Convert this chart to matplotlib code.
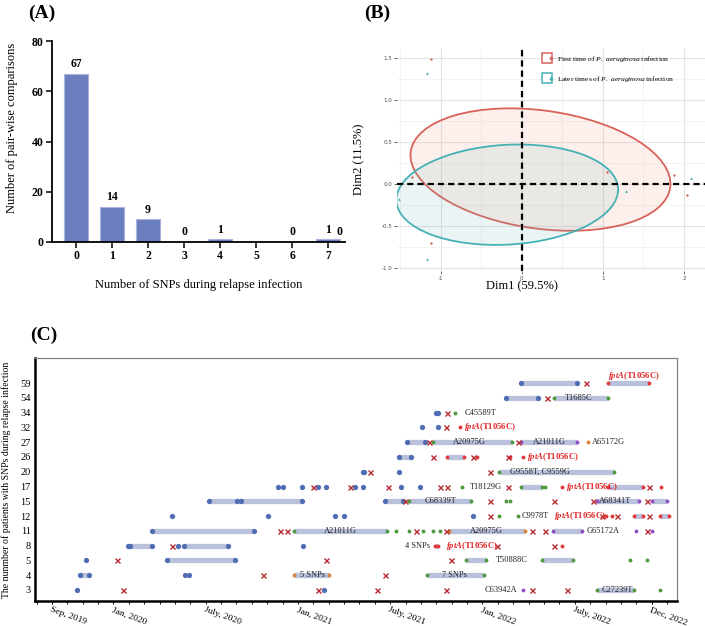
import matplotlib
matplotlib.use('Agg')
import matplotlib.pyplot as plt
from matplotlib.patches import Ellipse
from matplotlib.lines import Line2D
from matplotlib.legend_handler import HandlerTuple
import numpy as np

plt.rcParams['font.family'] = ['Liberation Serif', 'DejaVu Serif']
plt.rcParams['mathtext.fontset'] = 'custom'
plt.rcParams['mathtext.rm'] = 'Liberation Serif'
plt.rcParams['mathtext.it'] = 'Liberation Serif:italic'
plt.rcParams['mathtext.bf'] = 'Liberation Serif:bold'
plt.rcParams['mathtext.bfit'] = 'Liberation Serif:bold:italic'

# ---------------- Panel A data ----------------
snp_counts = [0, 1, 2, 3, 4, 5, 6, 7]
pair_counts = [67, 14, 9, 0, 1, 0, 0, 1]
bar_labels = ['67', '14', '9', '0', '1', '', '0', '1']

# ---------------- Panel B data ----------------
first_x = [-1.12, -1.36, -1.12, 1.05, 1.88, 2.04]
first_y = [1.49, 0.08, -0.71, 0.14, 0.11, -0.13]
later_x = [-1.17, -1.51, -1.17, 1.29, 2.09]
later_y = [1.32, -0.18, -0.90, -0.08, 0.07]
ell_first_center = (0.23, 0.17)
ell_first_size = (3.23, 1.41, -7.5)   # width, height, angle
ell_later_center = (-0.18, -0.13)
ell_later_size = (2.74, 1.19, 3.2)

# ---------------- Panel C data ----------------
row_labels = [3, 4, 5, 8, 11, 12, 15, 17, 20, 26, 27, 32, 34, 54, 59]

blue_dots = {
    59: [2022.21, 2022.51],
    54: [2022.13, 2022.30],
    34: [2021.75, 2021.76],
    32: [2021.67, 2021.76],
    27: [2021.59, 2021.69],
    26: [2021.55, 2021.61],
    20: [2021.35, 2021.36, 2021.55],
    17: [2020.89, 2020.92, 2021.02, 2021.11, 2021.15, 2021.31, 2021.35, 2021.56, 2021.66],
    15: [2020.52, 2020.67, 2020.69, 2021.02, 2021.47, 2021.57],
    12: [2020.32, 2020.84, 2021.20, 2021.25, 2021.95],
    11: [2020.21, 2020.76],
    8: [2020.08, 2020.09, 2020.21, 2020.35, 2020.38, 2020.62, 2021.03],
    5: [2019.85, 2020.29, 2020.66],
    4: [2019.82, 2019.87, 2020.39, 2020.41],
    3: [2019.80, 2021.14],
}
red_crosses = {
    59: [2022.56],
    54: [2022.35],
    34: [2021.81],
    32: [2021.80],
    27: [2021.71, 2022.19],
    26: [2021.73, 2021.95, 2022.14],
    20: [2021.39, 2022.04],
    17: [2021.08, 2021.28, 2021.49, 2021.77, 2021.81, 2022.14, 2022.90],
    15: [2021.58, 2022.04, 2022.39, 2022.60, 2022.89],
    12: [2022.04, 2022.65, 2022.73, 2022.90],
    11: [2020.90, 2020.94, 2021.64, 2021.80, 2022.27, 2022.34, 2022.89],
    8: [2020.32, 2022.08, 2022.39],
    5: [2020.02, 2021.15, 2021.83],
    4: [2020.81, 2021.47],
    3: [2020.05, 2021.11, 2021.43, 2021.80, 2022.27, 2022.46],
}
red_dots = {
    59: [2022.68, 2022.90],
    32: [2021.88],
    26: [2021.81, 2021.90, 2021.97, 2022.15, 2022.22],
    17: [2022.43, 2022.68, 2022.87, 2022.97],
    12: [2022.67, 2022.70, 2022.82, 2022.87, 2022.96, 2023.01],
    8: [2021.74, 2021.76, 2022.43],
}
green_dots = {
    54: [2022.39, 2022.68],
    34: [2021.85],
    27: [2021.73, 2022.16],
    20: [2022.09, 2022.71],
    17: [2021.89, 2022.21, 2022.32, 2022.34],
    15: [2021.60, 2021.94, 2022.13, 2022.15],
    12: [2022.09, 2022.19],
    11: [2020.98, 2021.48, 2021.53, 2021.60, 2021.68, 2021.73, 2021.77],
    5: [2021.91, 2022.02, 2022.32, 2022.49, 2022.80, 2022.89],
    4: [2021.70, 2022.01],
    3: [2022.62, 2022.82, 2022.96],
}
purple_dots = {
    27: [2022.21, 2022.51],
    15: [2022.62, 2022.85, 2022.92, 2023.00],
    11: [2022.38, 2022.54, 2022.83, 2022.92],
    3: [2022.22],
}
orange_dots = {
    27: [2022.57],
    11: [2021.82, 2022.23],
    4: [2020.98, 2021.17],
}
bars = {
    59: [(2022.21, 2022.51), (2022.68, 2022.90)],
    54: [(2022.13, 2022.30), (2022.39, 2022.68)],
    34: [(2021.75, 2021.76)],
    27: [(2021.59, 2021.69), (2021.73, 2022.16), (2022.21, 2022.51)],
    26: [(2021.55, 2021.61), (2021.81, 2021.90)],
    20: [(2022.09, 2022.71)],
    17: [(2022.21, 2022.32), (2022.68, 2022.87)],
    15: [(2020.52, 2021.02), (2021.47, 2021.57), (2021.60, 2021.94),
         (2022.62, 2022.85), (2022.92, 2023.00)],
    12: [(2022.82, 2022.87), (2022.96, 2023.01)],
    11: [(2020.21, 2020.76), (2020.98, 2021.48), (2021.82, 2022.23), (2022.38, 2022.54)],
    8: [(2020.08, 2020.21), (2020.38, 2020.62), (2021.74, 2021.76)],
    5: [(2020.29, 2020.66), (2021.91, 2022.02), (2022.32, 2022.49)],
    4: [(2019.82, 2019.87), (2020.98, 2021.17), (2021.70, 2022.01)],
    3: [(2022.62, 2022.82)],
}
snp_text_rows = [54, 34, 27, 27, 27, 20, 17, 15, 15, 12, 11, 11, 11, 8, 5, 4, 4, 3, 3]
snp_text_x = [2022.52, 2021.89, 2021.93, 2022.36, 2022.58, 2022.31, 2021.92, 2021.77,
              2022.72, 2022.20, 2021.23, 2022.02, 2022.55, 2021.73, 2022.06, 2021.08,
              2021.85, 2022.20, 2022.73]
snp_text = ['T1685C', 'C45589T', 'A20975G', 'A21011G', 'A65172G', 'G9558T, C9559G',
            'T18129G', 'C68339T', 'A68341T', 'C9978T', 'A21011G', 'A20975G', 'G65172A',
            '4 SNPs', 'T50888C', '5 SNPs', '7 SNPs', 'C63942A', 'C27239T']
snp_text_ha = ['center', 'left', 'center', 'center', 'left', 'center', 'left', 'center',
               'center', 'left', 'center', 'center', 'left', 'right', 'left', 'center',
               'center', 'right', 'center']
fpta_rows = [59, 32, 26, 17, 12, 8]
fpta_x = [2022.68, 2021.90, 2022.24, 2022.45, 2022.39, 2021.80]
fpta_dy = [0.45, 0, 0, 0, 0, 0]

date_ticks = [2019.667, 2020.0, 2020.5, 2021.0, 2021.5, 2022.0, 2022.5, 2022.917]
date_labels = ['Sep, 2019', 'Jan, 2020', 'July, 2020', 'Jan, 2021', 'July, 2021',
               'Jan, 2022', 'July, 2022', 'Dec, 2022']

W, H = 705, 626
fig = plt.figure(figsize=(W / 100, H / 100), dpi=100)


def box(l, t, r, b):
    return [l / W, 1 - b / H, (r - l) / W, (b - t) / H]


# ================= Panel A =================
axA = fig.add_axes(box(52, 41, 345, 242))
axA.bar(snp_counts, pair_counts, width=0.67, color='#6a7ebd', edgecolor='#a9b5e0', linewidth=0.8)
for x, v, lab in zip(snp_counts, pair_counts, bar_labels):
    if lab:
        axA.text(x, v + 1.5, lab, ha='center', va='bottom', fontsize=8.5, fontweight='bold')
axA.text(7.33, 1.5, '0', ha='center', va='bottom', fontsize=8.5, fontweight='bold')
axA.set_xlim(-0.667, 7.47)
axA.set_ylim(0, 80)
axA.set_yticks([0, 20, 40, 60, 80])
axA.set_xticks(snp_counts)
for s in ['top', 'right']:
    axA.spines[s].set_visible(False)
for s in ['left', 'bottom']:
    axA.spines[s].set_linewidth(1.3)
axA.tick_params(width=1.1, length=4, labelsize=8.5, pad=2)
for lab in axA.get_xticklabels() + axA.get_yticklabels():
    lab.set_fontweight('bold')
axA.set_ylabel('Number of pair-wise comparisons', fontsize=9)
axA.yaxis.set_label_coords((18 - 52) / 293, (242 - 128) / 201)
axA.set_xlabel('Number of SNPs during relapse infection', fontsize=9)
axA.xaxis.set_label_coords(0.5, (242 - 279) / 201)
fig.text(28 / W, 1 - 13 / H, '(A)', fontsize=14, fontweight='bold', va='center', ha='left')

# ================= Panel B =================
axB = fig.add_axes(box(397, 48, 705, 271))
axB.set_xlim(-1.54, 2.26)
axB.set_ylim(-1.04, 1.62)
axB.set_xticks([-1, 0, 1, 2])
axB.set_xticks([-1.5, -0.5, 0.5, 1.5], minor=True)
axB.set_yticks([-1.0, -0.5, 0.0, 0.5, 1.0, 1.5])
axB.set_yticks([-0.75, -0.25, 0.25, 0.75, 1.25], minor=True)
axB.grid(True, which='major', color='#e3e3e3', lw=0.8)
axB.grid(True, which='minor', color='#efefef', lw=0.5)
axB.set_axisbelow(True)
for s in axB.spines.values():
    s.set_visible(False)
axB.tick_params(which='major', length=2, width=0.5, color='#333333', labelsize=4,
                labelcolor='#4d4d4d', pad=1.5)
axB.tick_params(which='minor', length=0)
axB.set_yticklabels(['-1.0', '-0.5', '0.0', '0.5', '1.0', '1.5'], family='DejaVu Sans')
axB.set_xticklabels(['-1', '0', '1', '2'], family='DejaVu Sans')

red_c = '#d9625a'
teal_c = '#45b0b5'
e1 = Ellipse(ell_first_center, ell_first_size[0], ell_first_size[1], angle=ell_first_size[2],
             facecolor=(0.95, 0.62, 0.50, 0.15), edgecolor=red_c, lw=1.3, zorder=2)
e2 = Ellipse(ell_later_center, ell_later_size[0], ell_later_size[1], angle=ell_later_size[2],
             facecolor=(0.45, 0.72, 0.72, 0.14), edgecolor=teal_c, lw=1.3, zorder=2)
axB.add_patch(e1)
axB.add_patch(e2)
axB.axvline(0, color='black', lw=1.6, ls=(0, (2.8, 1.8)), zorder=3)
axB.axhline(0, color='black', lw=1.6, ls=(0, (2.8, 1.8)), zorder=3)
axB.scatter(first_x, first_y, s=3, marker='o', color=red_c, zorder=4, linewidths=0)
axB.scatter(later_x, later_y, s=4, marker='^', color=teal_c, zorder=4, linewidths=0)

h1 = (Line2D([], [], ls='none', marker='s', ms=7, mfc='white', mec=red_c, mew=1.1),
      Line2D([], [], ls='none', marker='o', ms=1.6, color=red_c))
h2 = (Line2D([], [], ls='none', marker='s', ms=7, mfc='white', mec=teal_c, mew=1.1),
      Line2D([], [], ls='none', marker='^', ms=2, color=teal_c))
axB.legend([h1, h2],
           [r'First time of $\it{P.\ aeruginosa}$ infection',
            r'Later times of $\it{P.\ aeruginosa}$ infection'],
           handler_map={tuple: HandlerTuple(ndivide=None)},
           loc='upper left', bbox_to_anchor=((545 - 397) / 308, (271 - 54) / 223),
           frameon=False, fontsize=5.4, handlelength=1.0, handletextpad=0.6,
           labelspacing=1.3, borderaxespad=0, borderpad=0)
axB.set_xlabel('Dim1 (59.5%)', fontsize=9)
axB.xaxis.set_label_coords((522 - 397) / 308, (271 - 280) / 223)
axB.set_ylabel('Dim2 (11.5%)', fontsize=9)
axB.yaxis.set_label_coords((365 - 397) / 308, 0.5)
fig.text(364 / W, 1 - 13 / H, '(B)', fontsize=14, fontweight='bold', va='center', ha='left')

# ================= Panel C =================
axC = fig.add_axes(box(35, 358, 677, 601))
ypos = {r: i for i, r in enumerate(row_labels)}

for r, segs in bars.items():
    for s, e in segs:
        axC.plot([s, e], [ypos[r], ypos[r]], color='#b9c1dd', lw=3.8,
                 solid_capstyle='butt', zorder=1)


def dots(d, **kw):
    for r, xs in d.items():
        axC.plot(xs, [ypos[r]] * len(xs), ls='none', zorder=3, **kw)


dots(blue_dots, marker='o', ms=3.8, color='#4f6db3', mew=0)
dots(green_dots, marker='o', ms=2.8, color='#4f9a3e', mew=0)
dots(red_dots, marker='o', ms=2.8, color='#e23a3a', mew=0)
dots(purple_dots, marker='o', ms=2.8, color='#9150c6', mew=0)
dots(orange_dots, marker='o', ms=2.8, color='#dc8236', mew=0)
dots(red_crosses, marker='x', ms=3.6, color='#b5292e', mew=1.0)

for r, x, t, ha in zip(snp_text_rows, snp_text_x, snp_text, snp_text_ha):
    dx = 0.012 if ha == 'left' else (-0.012 if ha == 'right' else 0)
    axC.text(x + dx, ypos[r], t, ha=ha, va='center', fontsize=6, color='#222222', zorder=4)
for r, x, dy in zip(fpta_rows, fpta_x, fpta_dy):
    axC.text(x, ypos[r] + dy, r'$\mathbfit{fptA}$(T1056C)', ha='left', va='center',
             fontsize=6.2, color='#e02424', fontweight='bold', zorder=4)

axC.set_ylim(-0.75, 15.7)
axC.set_xlim(2019.575, 2023.054)
axC.set_yticks(range(len(row_labels)))
axC.set_yticklabels([str(r) for r in row_labels])
axC.tick_params(axis='y', length=0, labelsize=7.5, pad=3)
month_ticks = [2019 + 7 / 12 + k / 12 for k in range(42)]
axC.set_xticks(month_ticks, minor=True)
axC.set_xticks(date_ticks)
axC.set_xticklabels(date_labels, rotation=-20, ha='left', rotation_mode='anchor')
axC.tick_params(axis='x', which='both', length=2, width=0.7, labelsize=6.8, pad=1.5)
axC.spines['left'].set_linewidth(1.8)
axC.spines['bottom'].set_linewidth(1.8)
axC.spines['top'].set_color('#808080')
axC.spines['right'].set_color('#808080')
axC.spines['top'].set_linewidth(0.9)
axC.spines['right'].set_linewidth(0.9)
axC.set_ylabel('The nunmber of patients with SNPs during relapse infection', fontsize=7)
axC.yaxis.set_label_coords((11 - 35) / 642, 0.5)
fig.text(30 / W, 1 - 335 / H, '(C)', fontsize=14, fontweight='bold', va='center', ha='left')

fig.savefig('out.png', dpi=100)
